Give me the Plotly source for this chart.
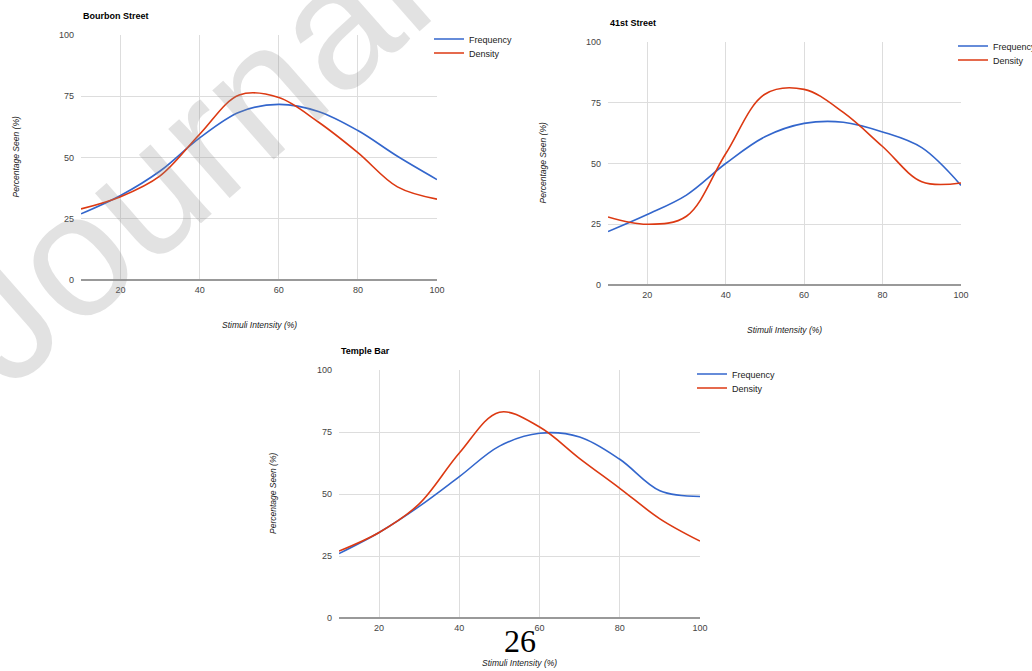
import plotly.graph_objects as go

W, H = 1032, 671

x_vals = [10, 20, 30, 40, 50, 60, 70, 80, 90, 100]

bourbon_freq = [27, 34.5, 44.5, 58, 68.5, 71.7, 68.8, 61, 50.5, 41]
bourbon_dens = [29, 34, 42.5, 59.5, 75.5, 74.5, 64.5, 52, 38, 33]

st41_freq = [22, 29, 37, 50, 61, 66.5, 67, 63, 56.5, 41]
st41_dens = [28, 25, 28.3, 54, 78.5, 80.5, 71, 57, 42.5, 42]

temple_freq = [26, 34.5, 45, 57, 69.3, 74.5, 73, 64, 51.3, 49]
temple_dens = [27, 34.5, 46, 66.5, 83, 77, 64.3, 52.3, 40, 31]

titles = ["Bourbon Street", "41st Street", "Temple Bar"]
series_names = ["Frequency", "Density"]
colors = ["#3366cc", "#dc3912"]
x_ticks = [20, 40, 60, 80, 100]
y_ticks = [0, 25, 50, 75, 100]
x_title = "Stimuli Intensity (%)"
y_title = "Percentage Seen (%)"

# pixel boxes: left, right, top, bottom
boxes = [(81, 437, 35, 280), (608, 961, 42, 285), (339, 700, 370, 618)]
data = [(bourbon_freq, bourbon_dens), (st41_freq, st41_dens), (temple_freq, temple_dens)]

def px(v):
    return v / W

def py(v):
    return 1 - v / H

fig = go.Figure()
font_fam = "Liberation Sans, Arial, sans-serif"
annotations = []
legend_count = 0

for i, (box, (fr, de)) in enumerate(zip(boxes, data)):
    l, r, t, b = box
    sfx = "" if i == 0 else str(i + 1)
    for k, (name, ys, col) in enumerate(zip(series_names, (fr, de), colors)):
        legend_count += 1
        legend_name = "legend" if legend_count == 1 else f"legend{legend_count}"
        fig.add_trace(go.Scatter(
            x=x_vals, y=ys, mode="lines", name=name,
            line=dict(color=col, width=1.6, shape="spline", smoothing=1.0),
            xaxis="x" + sfx, yaxis="y" + sfx, legend=legend_name,
        ))
        fig.layout[legend_name] = dict(
            x=px(r - 8), y=py(t + 4 + 14 * k), xanchor="left", yanchor="middle",
            bgcolor="rgba(0,0,0,0)", itemwidth=30, borderwidth=0,
            font=dict(family=font_fam, size=9, color="#222222"),
        )
    fig.layout["xaxis" + sfx] = dict(
        domain=[px(l), px(r)], anchor="y" + sfx, range=[10, 100],
        tickvals=x_ticks, showgrid=True, gridcolor="#dddddd", gridwidth=1,
        zeroline=False, showline=False, ticks="", ticklabelstandoff=3,
        tickfont=dict(family=font_fam, size=9, color="#444444"),
    )
    fig.layout["yaxis" + sfx] = dict(
        domain=[py(b), py(t)], anchor="x" + sfx, range=[0, 100],
        tickvals=y_ticks, showgrid=True, gridcolor="#dddddd", gridwidth=1,
        zeroline=True, zerolinecolor="#999999", zerolinewidth=1.5,
        showline=False, ticks="", ticklabelstandoff=6,
        tickfont=dict(family=font_fam, size=9, color="#444444"),
    )
    annotations.append(dict(
        text="<b>" + titles[i] + "</b>", x=px(l), y=py(t - 19),
        xref="paper", yref="paper", xanchor="left", yanchor="middle",
        showarrow=False, font=dict(family=font_fam, size=9, color="#000000"),
    ))
    annotations.append(dict(
        text="<i>" + x_title + "</i>", x=px((l + r) / 2), y=py(b + 45),
        xref="paper", yref="paper", xanchor="center", yanchor="middle",
        showarrow=False, font=dict(family=font_fam, size=8.5, color="#222222"),
    ))
    annotations.append(dict(
        text="<i>" + y_title + "</i>", x=px(l - 66), y=py((t + b) / 2),
        xref="paper", yref="paper", xanchor="center", yanchor="middle",
        textangle=-90, showarrow=False,
        font=dict(family=font_fam, size=8.5, color="#222222"),
    ))

annotations.append(dict(
    text="26", x=px(520), y=py(641), xref="paper", yref="paper",
    xanchor="center", yanchor="middle", showarrow=False,
    font=dict(family="Liberation Serif, Times New Roman, serif", size=32, color="#000000"),
))
annotations.append(dict(
    text="Journal", x=px(184), y=py(157), xref="paper", yref="paper",
    xanchor="center", yanchor="middle", textangle=-41.3, showarrow=False,
    font=dict(family="Liberation Sans", size=175, color="rgba(140,140,140,0.25)"),
))

fig.update_layout(
    width=W, height=H, margin=dict(l=0, r=0, t=0, b=0, autoexpand=False),
    paper_bgcolor="white", plot_bgcolor="white",
    annotations=annotations, showlegend=True,
)

fig.write_html(
    "out.html",
    config={"displayModeBar": False},
    post_script="document.body.style.margin='0px';document.body.style.overflow='hidden';",
)
